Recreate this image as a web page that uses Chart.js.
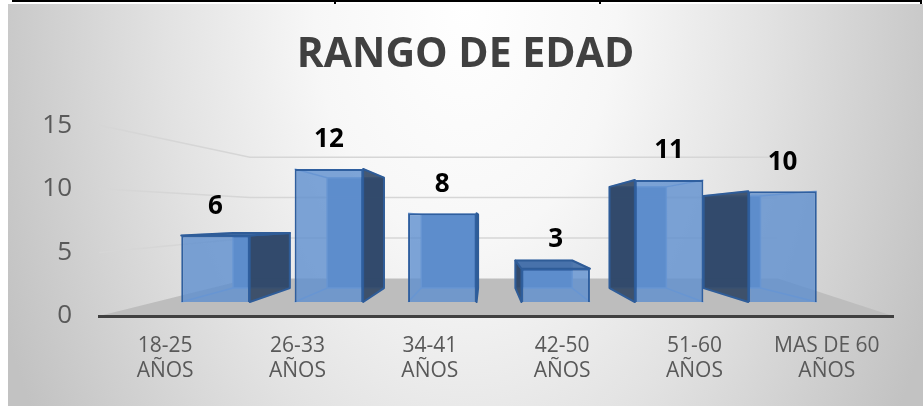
<!DOCTYPE html>
<html lang="es">
<head>
<meta charset="utf-8">
<title>Rango de edad</title>
<script src="https://cdn.jsdelivr.net/npm/chart.js@4/dist/chart.umd.min.js"></script>
<style>
  html, body { margin: 0; padding: 0; background: #fff; }
  #tabla { position: absolute; left: 12px; top: 0; width: 910px; height: 2px; background: #000; }
  .sep { position: absolute; top: 0; width: 2px; height: 4px; background: #000; }
  #marco {
    position: absolute; left: 8px; top: 4px; width: 915px; height: 402px;
    background: radial-gradient(ellipse 55% 200% at 50% 0%, #ffffff 0%, #f7f7f7 30%, #e2e2e2 60%, #c2c2c2 100%);
  }
</style>
</head>
<body>
<div id="tabla"></div>
<div class="sep" style="left:334px"></div>
<div class="sep" style="left:599px"></div>
<div class="sep" style="left:920px"></div>
<div id="marco"><canvas id="grafico"></canvas></div>
<script>
// datos
const categorias = [
  ["18-25", "AÑOS"],
  ["26-33", "AÑOS"],
  ["34-41", "AÑOS"],
  ["42-50", "AÑOS"],
  ["51-60", "AÑOS"],
  ["MAS DE 60", "AÑOS"],
];
const personas = [6, 12, 8, 3, 11, 10];
const ticksEdad = [0, 5, 10, 15];

Chart.defaults.font.family = "'Open Sans', sans-serif";

// punto de fuga del efecto 3D (fraccion del area del grafico)
const fuga = { fx: 0.487, fy: 0.497, s: 0.83 };
// esquinas de fondo del suelo / pared (fraccion del ancho)
const pared = { izq: 0.19, der: 0.855 };

// suelo gris, lineas de la pared del fondo, cajas 3D y etiquetas
const fondo3d = {
  id: "fondo3d",
  beforeDraw(chart) {
    const { ctx, chartArea: a, scales } = chart;
    const y = scales.y, yw = scales.yWall;
    const bl = a.left + pared.izq * (a.right - a.left);
    const br = a.left + pared.der * (a.right - a.left);
    const y0 = yw.getPixelForValue(0);
    ctx.save();
    ctx.fillStyle = "#bdbdbd";
    ctx.beginPath();
    ctx.moveTo(a.left, a.bottom);
    ctx.lineTo(bl, y0);
    ctx.lineTo(br, y0);
    ctx.lineTo(a.right, a.bottom);
    ctx.closePath();
    ctx.fill();
    ctx.strokeStyle = "#d6d6d6";
    ctx.lineWidth = 1.5;
    ticksEdad.filter((v) => v > 0).forEach((v) => {
      ctx.beginPath();
      ctx.moveTo(a.left, y.getPixelForValue(v));
      ctx.lineTo(bl, yw.getPixelForValue(v));
      ctx.lineTo(br, yw.getPixelForValue(v));
      ctx.stroke();
    });
    ctx.restore();
  },
  beforeDatasetsDraw(chart) {
    const { ctx, chartArea: a } = chart;
    const vx = a.left + fuga.fx * (a.right - a.left);
    const vy = a.top + fuga.fy * (a.bottom - a.top);
    const p = (x, yy) => [vx + fuga.s * (x - vx), vy + fuga.s * (yy - vy)];
    const poly = (pts, fill, stroke) => {
      ctx.beginPath();
      pts.forEach((q, i) => (i ? ctx.lineTo(q[0], q[1]) : ctx.moveTo(q[0], q[1])));
      ctx.closePath();
      if (fill) { ctx.fillStyle = fill; ctx.fill(); }
      if (stroke) { ctx.strokeStyle = stroke; ctx.stroke(); }
    };
    ctx.save();
    ctx.lineJoin = "round";
    chart.getDatasetMeta(0).data.forEach((bar) => {
      const { x, y, base, width } = bar.getProps(["x", "y", "base", "width"], true);
      const L = x - width / 2, R = x + width / 2, T = y, B = base;
      const bLT = p(L, T), bRT = p(R, T), bRB = p(R, B), bLB = p(L, B);
      // cara trasera y aristas ocultas
      ctx.lineWidth = 1.5;
      poly([bLT, bRT, bRB, bLB], "rgba(86,132,194,0.95)", "rgba(140,176,226,0.95)");
      ctx.strokeStyle = "rgba(140,176,226,0.95)";
      [[L, T, bLT], [R, T, bRT], [R, B, bRB], [L, B, bLB]].forEach(([fx, fy, q]) => {
        ctx.beginPath(); ctx.moveTo(fx, fy); ctx.lineTo(q[0], q[1]); ctx.stroke();
      });
      ctx.lineWidth = 2;
      // cara lateral visible
      if (bRT[0] > R + 1) poly([[R, T], bRT, bRB, [R, B]], "rgba(44,66,96,0.88)", "#2f5c97");
      if (bLT[0] < L - 1) poly([[L, T], bLT, bLB, [L, B]], "rgba(44,66,96,0.88)", "#2f5c97");
      // cara superior visible
      if (bLT[1] < T - 1) poly([[L, T], [R, T], bRT, bLT], "rgba(72,114,170,0.95)", "#2f5c97");
    });
    ctx.restore();
  },
  afterDatasetsDraw(chart) {
    const { ctx } = chart;
    ctx.save();
    ctx.font = "bold 26px 'Open Sans', sans-serif";
    ctx.fillStyle = "#000";
    ctx.textAlign = "center";
    ctx.textBaseline = "middle";
    chart.getDatasetMeta(0).data.forEach((bar, i) => {
      ctx.fillText(String(personas[i]), bar.x, bar.y - 29);
    });
    ctx.restore();
  },
};

new Chart(document.getElementById("grafico"), {
  type: "bar",
  data: {
    labels: categorias,
    datasets: [
      {
        label: "Personas",
        data: personas.map((v, i) => ({ x: i, y: v })),
        xAxisID: "xBar",
        yAxisID: "yBar",
        backgroundColor: "rgba(94,142,206,0.80)",
        borderColor: "#2f5f9f",
        borderWidth: 2,
        barPercentage: 0.62,
        categoryPercentage: 1,
      },
    ],
  },
  options: {
    responsive: true,
    maintainAspectRatio: false,
    animation: false,
    layout: { padding: 0 },
    plugins: {
      legend: { display: false },
      tooltip: { enabled: false },
      title: {
        display: true,
        text: "RANGO DE EDAD",
        color: "#404040",
        font: { size: 41, weight: "bold" },
        padding: { top: 27, bottom: 45 },
      },
    },
    scales: {
      x: {
        type: "category",
        position: "bottom",
        grid: { display: false, drawTicks: false },
        border: { display: true, color: "#404040", width: 3 },
        ticks: { color: "#595959", font: { size: 21 }, padding: 17, maxRotation: 0, autoSkip: false },
        afterFit(scale) { scale.height = 90; },
      },
      y: {
        type: "linear",
        position: "left",
        min: 0,
        max: 15,
        grid: { display: false, drawTicks: false },
        border: { display: false },
        ticks: { stepSize: 5, color: "#595959", font: { size: 26 }, padding: 27 },
        afterFit(scale) { scale.width = 91; },
      },
      xBar: { type: "linear", axis: "x", display: false, offset: false, min: -1.027, max: 5.974 },
      yBar: { type: "linear", axis: "y", display: false, min: -1.26, max: 15.95 },
      yWall: {
        type: "linear",
        axis: "y",
        position: "right",
        min: -4.63,
        max: 18.95,
        grid: { display: false, drawTicks: false },
        border: { display: false },
        ticks: { display: false },
        afterFit(scale) { scale.width = 30; },
      },
    },
  },
  plugins: [fondo3d],
});
</script>
</body>
</html>
